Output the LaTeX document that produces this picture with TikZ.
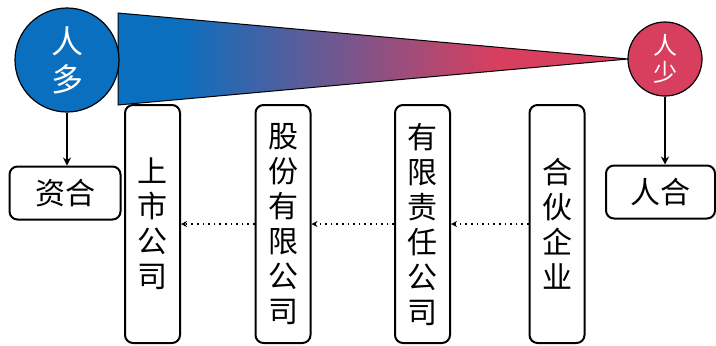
\documentclass[tikz,border=0pt]{standalone}
\usepackage{fontspec}
\newfontfamily\cjk{Noto Sans CJK SC}
\usetikzlibrary{arrows.meta,positioning}
\definecolor{fblue}{HTML}{0B6FBF}
\definecolor{fred}{HTML}{D83F5F}
\pgfdeclarehorizontalshading{wedgeshade}{100bp}{color(0bp)=(fblue); color(31bp)=(fblue);
  color(62bp)=(fred); color(100bp)=(fred)}
\tikzset{
  orb/.style     = {draw, circle, line width=0.6pt, inner sep=0pt,
                    text=white, align=center},
  tallbox/.style = {draw, line width=1pt, rounded corners=4pt, inner sep=0pt,
                    minimum width=27.5pt, minimum height=119pt, align=center},
  widebox/.style = {draw, line width=1pt, rounded corners=4pt, inner sep=0pt,
                    minimum height=26.5pt},
  sig/.style     = {-{Stealth[length=4pt,width=4pt]}, line width=1pt},
  dotsig/.style  = {-{Stealth[length=3pt,width=3pt]}, dotted, line width=0.8pt},
}

\begin{document}
\begin{tikzpicture}[x=0.5pt,y=-0.5pt,font={\cjk\fontsize{15}{17.5}\selectfont}]
\useasboundingbox (0,0) rectangle (716,345);
% wedge
\draw[line width=0.5pt,shading=wedgeshade]
  (118,13) -- (628,59) -- (118,105) -- cycle;
% circles
\node[orb,fill=fblue,minimum size=52pt,font={\cjk\fontsize{16}{19}\selectfont}]
  (duo) at (67,60) {人\\多};
\node[orb,fill=fred,minimum size=37pt,font={\cjk\fontsize{12}{13.5}\selectfont}]
  (shao) at (665,59) {人\\少};
% side boxes
\node[widebox,minimum width=55.5pt] (zihe) at (65,193) {资合};
\node[widebox,minimum width=54.5pt] (renhe) at (660.5,192) {人合};
% company forms
\node[tallbox] (shangshi) at (152.5,224) {上\\市\\公\\司};
\node[tallbox] (gufen) at (283,224) {股\\份\\有\\限\\公\\司};
\node[tallbox] (youxian) at (422.5,224) {有\\限\\责\\任\\公\\司};
\node[tallbox] (hehuo) at (557,224) {合\\伙\\企\\业};
% arrows
\draw[sig] (duo.south) -- (duo.south |- zihe.north);
\draw[sig] (shao.south) -- (shao.south |- renhe.north);
\draw[dotsig] (hehuo.west) -- (youxian.east);
\draw[dotsig] (youxian.west) -- (gufen.east);
\draw[dotsig] (gufen.west) -- (shangshi.east);
\end{tikzpicture}
\end{document}
